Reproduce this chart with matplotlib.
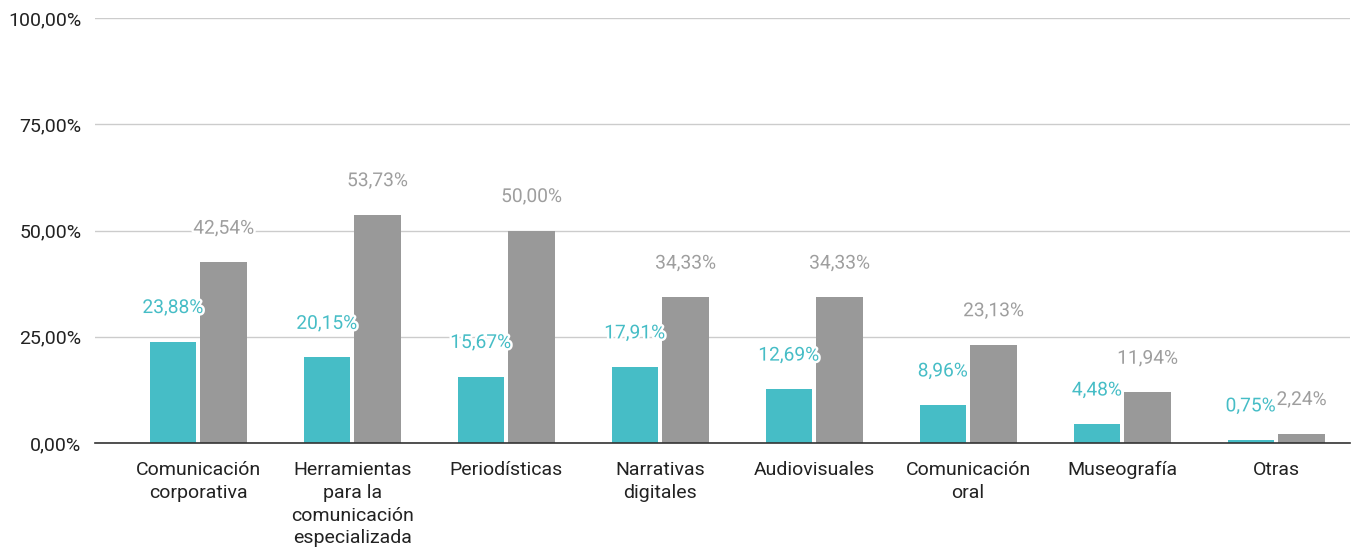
import numpy as np
import matplotlib.pyplot as plt
import matplotlib.patheffects as pe

plt.rcParams['font.family'] = ['Roboto', 'DejaVu Sans']

categories = ["Comunicación\ncorporativa", "Herramientas\npara la\ncomunicación\nespecializada",
              "Periodísticas", "Narrativas\ndigitales", "Audiovisuales", "Comunicación\noral",
              "Museografía", "Otras"]
serie_a = [23.88, 20.15, 15.67, 17.91, 12.69, 8.96, 4.48, 0.75]
serie_b = [42.54, 53.73, 50.00, 34.33, 34.33, 23.13, 11.94, 2.24]
yticks = [0, 25, 50, 75, 100]

teal = "#46bdc6"
gray = "#999999"

def fmt(v):
    return ("%.2f%%" % v).replace(".", ",")

fig = plt.figure(figsize=(13.59, 5.56), dpi=100)
ax = fig.add_axes([0.07, 0.203, 0.9234, 0.7646])

x = np.arange(len(categories))
w = 0.3
off = 0.165
ax.bar(x - off, serie_a, w, color=teal, zorder=3)
ax.bar(x + off, serie_b, w, color=gray, zorder=3)

stroke = [pe.withStroke(linewidth=3.5, foreground="white")]
for i in range(len(x)):
    ax.text(x[i] - off, serie_a[i] + 7.9, fmt(serie_a[i]), ha="center", va="center",
            color=teal, fontsize=13.8, path_effects=stroke, zorder=5)
    ax.text(x[i] + off, serie_b[i] + 7.9, fmt(serie_b[i]), ha="center", va="center",
            color="#9e9e9e", fontsize=13.8, path_effects=stroke, zorder=5)

ax.set_xlim(-0.669, 7.48)
ax.set_ylim(0, 100)
ax.set_yticks(yticks)
ax.set_yticklabels([fmt(v) for v in yticks], fontsize=14, color="#222222")
ax.set_xticks(x)
ax.set_xticklabels(categories, fontsize=14, color="#222222", linespacing=1.34, va="top")
ax.tick_params(axis="both", length=0, pad=10)
ax.tick_params(axis="x", pad=13)
ax.grid(axis="y", color="#cccccc", linewidth=1, zorder=0)
for s in ["top", "right", "left"]:
    ax.spines[s].set_visible(False)
ax.spines["bottom"].set_color("#333333")
ax.spines["bottom"].set_linewidth(1.2)
ax.spines["bottom"].set_zorder(4)

fig.savefig("out.png", dpi=100)
